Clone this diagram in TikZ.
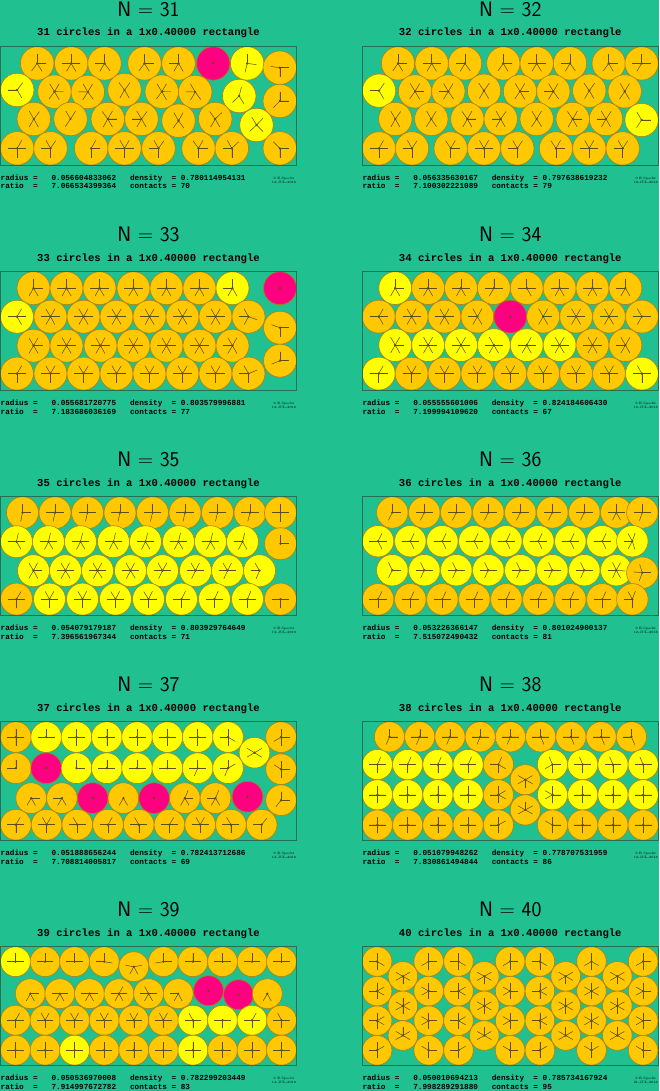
\documentclass[tikz,border=0pt]{standalone}
\usepackage{fontspec}
\setmonofont{Liberation Mono}
\usetikzlibrary{calc}

\definecolor{bggreen}{RGB}{32,192,144}
\definecolor{discO}{RGB}{255,200,0}
\definecolor{discY}{RGB}{255,255,0}
\definecolor{discM}{RGB}{255,0,128}
\definecolor{discedge}{RGB}{170,130,20}
\definecolor{contactcol}{RGB}{90,80,20}
\definecolor{boxedge}{RGB}{40,110,80}

\tikzset{
  disc/.style={draw=discedge, line width=0.6pt},
  contact/.style={draw=contactcol, fill=contactcol, line width=0.45pt},
  box/.style={draw=boxedge, line width=0.7pt},
  heading/.style={font=\sffamily\fontsize{21}{21}\selectfont, anchor=base, inner sep=0},
  subheading/.style={font=\ttfamily\bfseries\fontsize{10.6}{11}\selectfont, anchor=base, inner sep=0},
  stats/.style={font=\ttfamily\bfseries\fontsize{7.7}{8}\selectfont, anchor=base west, inner sep=0},
  stamp/.style={font=\fontsize{3.2}{3.6}\selectfont, align=center, inner sep=0}
}

\def\rattler{M}

% text and frame of one packing: x0, y0, N, radius, ratio, density, contacts, date
\newcommand\panel[8]{%
  \node[heading] (title#3) at (#1+148,#2-30) {N = #3};
  \node[subheading] (sub#3) at (#1+148,#2-10.7) {#3 circles in a 1x0.40000 rectangle};
  \draw[box] (#1,#2) rectangle ++(296,118.4);
  \node[stats] (rad#3) at (#1,#2+133.8) {radius =\ \ \ #4\ \ \ density\ \ = #6};
  \node[stats] (rat#3) at (#1,#2+142.3) {ratio\ \ =\ \ \ #5\ \ \ contacts = #7};
  \node[stamp] (stamp#3) at (#1+283.5,#2+133.5) {\textcopyright\ E.Specht\\#8};
}

% discs with contacts: x0, y0, r, list x/y/colour
\newcommand\discs[4]{%
  \foreach \xa/\ya/\ca in {#4}
    \filldraw[disc, fill=disc\ca] (#1+\xa,#2+\ya) circle (#3);
  \foreach \xa/\ya/\ca in {#4}{
    \fill[contact] (#1+\xa,#2+\ya) circle (0.9);
    \ifx\ca\rattler\else
      \foreach \xb/\yb/\cb in {#4}{
        \pgfmathsetmacro\dd{veclen(\xb-\xa,\yb-\ya)}
        \pgfmathtruncatemacro\hit{(\dd>1)&&(\dd<2.12*#3)}
        \ifnum\hit=1
          \ifx\cb\rattler\else
            \draw[contact] (#1+\xa,#2+\ya) -- ++({0.55*#3*(\xb-\xa)/\dd},{0.55*#3*(\yb-\ya)/\dd});
          \fi
        \fi
      }
      \pgfmathtruncatemacro\hit{\xa<1.1*#3}
      \ifnum\hit=1 \draw[contact] (#1+\xa,#2+\ya) -- ++(-0.55*#3,0); \fi
      \pgfmathtruncatemacro\hit{\xa>296-1.1*#3}
      \ifnum\hit=1 \draw[contact] (#1+\xa,#2+\ya) -- ++(0.55*#3,0); \fi
      \pgfmathtruncatemacro\hit{\ya<1.1*#3}
      \ifnum\hit=1 \draw[contact] (#1+\xa,#2+\ya) -- ++(0,-0.55*#3); \fi
      \pgfmathtruncatemacro\hit{\ya>118.4-1.1*#3}
      \ifnum\hit=1 \draw[contact] (#1+\xa,#2+\ya) -- ++(0,0.55*#3); \fi
    \fi
  }
}

\begin{document}
\begin{tikzpicture}[x=1pt,y=-1pt]

  \fill[bggreen] (0,0) rectangle (659,1091);
  \useasboundingbox (0,0) rectangle (659,1091);

  % N = 31
  \discs{0.5}{46.7}{16.75}{36.7/16.7/O, 70.7/16.7/O, 104/16.7/O, 144/16.7/O, 178/16.7/O, 212.7/16.7/M, 246.7/16.7/Y, 279.3/21/O,
    16.7/43.3/Y, 54/45/O, 87.3/45.3/O, 124/43.3/O, 161.3/45/O, 194.7/45.3/O, 238.7/49.3/Y, 279.3/54.3/O,
    33.3/72.3/O, 70/72.3/O, 107.3/72.3/O, 141/72.3/O, 178/74/O, 214.7/72.3/O, 256/78.3/Y,
    16.7/101.6/O, 50/101.6/O, 90.7/101.6/O, 124/101.6/O, 158/101.6/O, 198/101.6/O, 231.3/101.6/O, 279.3/101.6/O}
  \panel{0.5}{46.7}{31}{0.056604833062}{7.066534399364}{0.780114954131}{70}{12-JUL-2018}

  % N = 32
  \discs{362.3}{46.7}{16.68}{35.7/16.7/O, 69.4/16.7/O, 102.7/16.7/O, 141/16.7/O, 174.4/16.7/O, 207.7/16.7/O, 246.4/16.7/O, 279.3/16.7/O,
    16.7/44/Y, 52.7/44.7/O, 86/44.7/O, 121.7/44/O, 157.7/44.7/O, 191/44.7/O, 227/44/O, 262.4/44.7/O,
    33/72.3/O, 69/72.3/O, 105/72.3/O, 138.4/72.3/O, 174.4/72.3/O, 210.4/72.3/O, 243.7/72.3/O, 279.3/73.3/Y,
    16.7/101.7/O, 49.7/101.7/O, 88.4/101.7/O, 121.7/101.7/O, 155/101.7/O, 193.7/101.7/O, 227/101.7/O, 260.4/101.7/O}
  \panel{362.3}{46.7}{32}{0.056335630167}{7.100302221089}{0.797638619232}{79}{12-JUL-2018}

  % N = 33
  \discs{0.5}{271.7}{16.48}{33/16.5/O, 66/16.5/O, 99/16.5/O, 133/16.5/O, 166/16.5/O, 199/16.5/O, 232/16.5/Y, 279.5/16.5/M,
    16.5/45/Y, 50/45/O, 83/45/O, 116/45/O, 149/45/O, 182/45/O, 215/45/O, 248/45/O, 279.5/56/O,
    33/74/O, 66/74/O, 100/74/O, 133/74/O, 166/74/O, 199/74/O, 232/74/O,
    16.5/101.9/O, 50/101.9/O, 83/101.9/O, 116/101.9/O, 149/101.9/O, 182/101.9/O, 215/101.9/O, 248/101.9/O, 279.5/89/O}
  \panel{0.5}{271.7}{33}{0.055681720775}{7.183686036169}{0.803579996881}{77}{12-JUL-2018}

  % N = 34
  \discs{362.3}{271.7}{16.44}{32.9/16.4/Y, 65.8/16.4/O, 98.7/16.4/O, 131.6/16.4/O, 164.4/16.4/O, 197.3/16.4/O, 230.2/16.4/O, 263.1/16.4/O,
    16.4/44.9/O, 49.3/44.9/O, 82.2/44.9/O, 115.1/44.9/O, 148/44.9/M, 180.9/44.9/O, 213.8/44.9/O, 246.7/44.9/O, 279.6/44.9/O,
    32.9/73.4/Y, 65.8/73.4/Y, 98.7/73.4/Y, 131.6/73.4/Y, 164.4/73.4/Y, 197.3/73.4/Y, 230.2/73.4/O, 263.1/73.4/O,
    16.4/101.9/Y, 49.3/101.9/O, 82.2/101.9/O, 115.1/101.9/O, 148/101.9/O, 180.9/101.9/O, 213.8/101.9/O, 246.7/101.9/O, 279.6/101.9/Y}
  \panel{362.3}{271.7}{34}{0.055555601006}{7.199994109620}{0.824184606430}{67}{16-JUL-2018}

  % N = 35
  \discs{0.5}{496.7}{16.0}{22/16/O, 54.5/16/O, 87/16/O, 119.5/16/O, 152/16/O, 184.5/16/O, 217/16/O, 249.5/16/O, 280/16/O,
    16/45/Y, 48/45/Y, 80/45/Y, 113/45/Y, 145/45/Y, 178/45/Y, 210/45/Y, 242/45/Y, 280/47/O,
    33/74/Y, 65/74/Y, 97/74/Y, 130/74/Y, 162/74/Y, 195/74/Y, 227/74/Y, 259/74/Y,
    16/102.4/O, 49/102.4/Y, 82/102.4/Y, 115/102.4/Y, 148/102.4/Y, 181/102.4/Y, 214/102.4/Y, 247/102.4/Y, 280/102.4/O}
  \panel{0.5}{496.7}{35}{0.054079179187}{7.396561967344}{0.803929764649}{71}{13-JUL-2018}

  % N = 36
  \discs{362.3}{496.7}{15.75}{30/15.75/O, 62/15.75/O, 94/15.75/O, 126/15.75/O, 158/15.75/O, 190/15.75/O, 222/15.75/O, 254/15.75/O, 280/15.75/O,
    15.75/44.5/Y, 48/44.5/Y, 80/44.5/Y, 112/44.5/Y, 144/44.5/Y, 176/44.5/Y, 208/44.5/Y, 240/44.5/Y, 270/44.5/Y,
    30/73.5/Y, 62/73.5/Y, 94/73.5/Y, 126/73.5/Y, 158/73.5/Y, 190/73.5/Y, 222/73.5/Y, 254/73.5/Y, 280/76/O,
    15.75/102.6/O, 48/102.6/O, 80/102.6/O, 112/102.6/O, 144/102.6/O, 176/102.6/O, 208/102.6/O, 240/102.6/O, 270/102.6/O}
  \panel{362.3}{496.7}{36}{0.053226366147}{7.515072490432}{0.801024900137}{81}{12-JUL-2018}

  % N = 37
  \discs{0.5}{721.7}{15.36}{15.4/15.4/O, 45.7/15.4/Y, 76/15.4/Y, 106.3/15.4/Y, 136.6/15.4/Y, 166.9/15.4/Y, 197.2/15.4/Y, 227.5/15.4/Y, 254/31/Y, 280.6/15.4/O,
    15.4/46.5/O, 45.7/46.5/M, 76/46.5/Y, 106.3/46.5/Y, 136.6/46.5/Y, 166.9/46.5/Y, 197.2/46.5/Y, 227.5/46.5/Y, 280.6/47.5/O,
    30.7/76.4/O, 61.4/76.4/O, 92.2/76.4/M, 122.9/76.4/O, 153.6/76.4/M, 184.3/76.4/O, 215/76.4/O, 247/75/M, 280.6/78.5/O,
    15.36/103/O, 46.08/103/O, 76.8/103/O, 107.52/103/O, 138.24/103/O, 168.96/103/O, 199.68/103/O, 230.4/103/O, 261.12/103/O}
  \panel{0.5}{721.7}{37}{0.051888656244}{7.708814005817}{0.782413712686}{69}{13-JUL-2018}

  % N = 38
  \discs{362.3}{721.7}{15.12}{27.2/15.12/O, 57.44/15.12/O, 87.68/15.12/O, 117.92/15.12/O, 148.16/15.12/O, 178.4/15.12/O, 208.64/15.12/O, 238.88/15.12/O, 269.12/15.12/O,
    15.12/42.86/Y, 45.36/42.86/Y, 75.6/42.86/Y, 105.84/42.86/Y, 136.08/42.86/O, 163/57.98/O, 190.16/42.86/Y, 220.4/42.86/Y, 250.64/42.86/Y, 280.88/42.86/Y,
    15.12/73.1/Y, 45.36/73.1/Y, 75.6/73.1/Y, 105.84/73.1/Y, 136.08/73.1/O, 163/88.22/O, 190.16/73.1/Y, 220.4/73.1/Y, 250.64/73.1/Y, 280.88/73.1/Y,
    15.12/103.28/O, 45.36/103.28/O, 75.6/103.28/O, 105.84/103.28/O, 136.08/103.28/O, 190.16/103.28/O, 220.4/103.28/O, 250.64/103.28/O, 280.88/103.28/O}
  \panel{362.3}{721.7}{38}{0.051079948262}{7.830861494844}{0.778707531959}{86}{12-JUL-2018}

  % N = 39
  \discs{0.5}{946.7}{14.96}{15/14.96/Y, 44.6/14.96/O, 74.1/14.96/O, 103.7/14.96/O, 133.3/20/O, 162.9/14.96/O, 192.4/14.96/O, 222/14.96/O, 251.6/14.96/O, 281/14.96/O,
    29.8/47/O, 59.4/47/O, 89/47/O, 118.5/47/O, 148.1/47/O, 177.7/47/O, 208/44/M, 238/48/M, 266.8/47/O,
    15/73.5/O, 44.6/73.5/O, 74.1/73.5/O, 103.7/73.5/O, 133.3/73.5/O, 162.9/73.5/O, 192.4/73.5/Y, 222/73.5/Y, 251.6/73.5/Y, 281/73.5/O,
    15/103.44/O, 44.6/103.44/O, 74.1/103.44/Y, 103.7/103.44/O, 133.3/103.44/O, 162.9/103.44/O, 192.4/103.44/Y, 222/103.44/O, 251.6/103.44/O, 281/103.44/O}
  \panel{0.5}{946.7}{39}{0.050536970008}{7.914997672782}{0.782299203449}{83}{14-JUL-2018}

  % N = 40
  \discs{362.3}{946.7}{14.8}{14.8/14.8/O, 14.8/44.4/O, 14.8/74/O, 14.8/103.6/O,
    40.6/29.6/O, 40.6/59.2/O, 40.6/88.8/O,
    66.4/14.8/O, 66.4/44.4/O, 66.4/74/O, 66.4/103.6/O,
    96.2/14.8/O, 96.2/44.4/O, 96.2/74/O, 96.2/103.6/O,
    122/29.6/O, 122/59.2/O, 122/88.8/O,
    147.8/14.8/O, 147.8/44.4/O, 147.8/74/O, 147.8/103.6/O,
    177.6/14.8/O, 177.6/44.4/O, 177.6/74/O, 177.6/103.6/O,
    203.4/29.6/O, 203.4/59.2/O, 203.4/88.8/O,
    229.2/14.8/O, 229.2/44.4/O, 229.2/74/O, 229.2/103.6/O,
    255/29.6/O, 255/59.2/O, 255/88.8/O,
    280.8/14.8/O, 280.8/44.4/O, 280.8/74/O, 280.8/103.6/O}
  \panel{362.3}{946.7}{40}{0.050010694213}{7.998289291880}{0.785734167924}{95}{21-JUL-2018}

\end{tikzpicture}
\end{document}
